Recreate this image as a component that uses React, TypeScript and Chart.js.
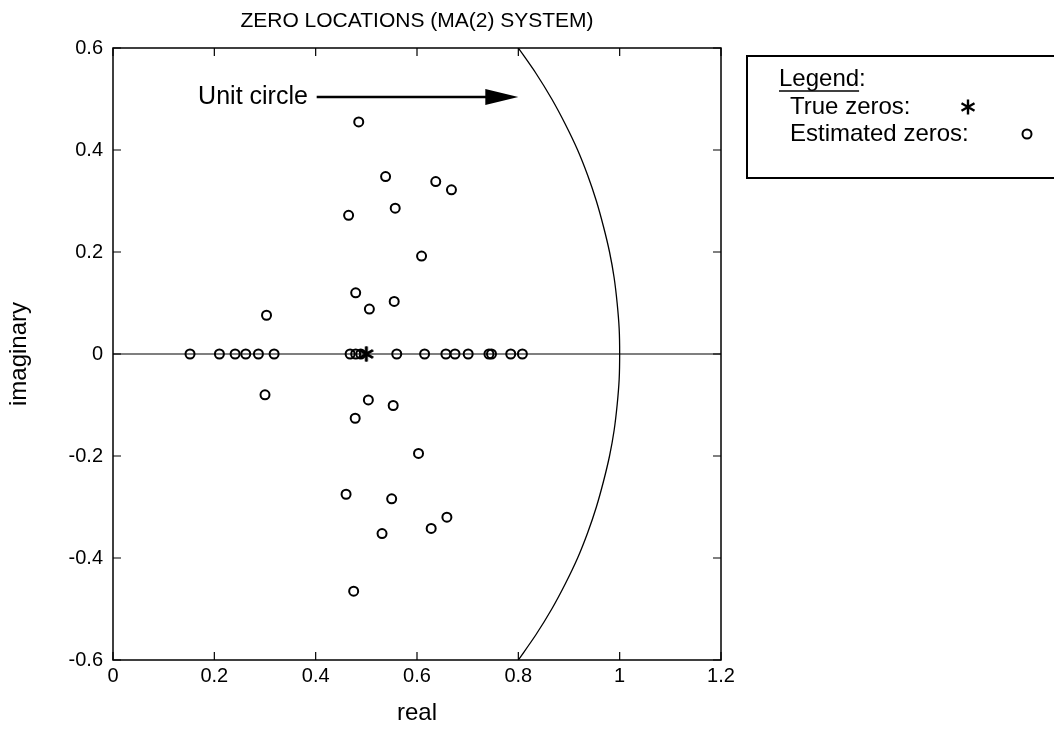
import React, { useEffect, useRef } from 'react';
import { Chart, registerables } from 'chart.js';

Chart.register(...registerables);

// ---------- data ----------
const xTicks = [0, 0.2, 0.4, 0.6, 0.8, 1, 1.2];
const xTickLabels = ['0', '0.2', '0.4', '0.6', '0.8', '1', '1.2'];
const yTicks = [-0.6, -0.4, -0.2, 0, 0.2, 0.4, 0.6];
const yTickLabels = ['-0.6', '-0.4', '-0.2', '0', '0.2', '0.4', '0.6'];

// estimated zeros (real part, imaginary part)
const estReal = [
  // upper half plane
  0.485, 0.538, 0.637, 0.668, 0.465, 0.557, 0.609, 0.479, 0.555, 0.506, 0.303,
  // lower half plane
  0.300, 0.504, 0.553, 0.478, 0.603, 0.460, 0.550, 0.628, 0.659, 0.531, 0.475,
  // on the real axis
  0.152, 0.210, 0.241, 0.262, 0.287, 0.318, 0.468, 0.479, 0.489, 0.560, 0.615,
  0.657, 0.675, 0.701, 0.742, 0.747, 0.785, 0.808,
];
const estImag = [
  0.455, 0.348, 0.338, 0.322, 0.272, 0.286, 0.192, 0.120, 0.103, 0.088, 0.076,
  -0.080, -0.090, -0.101, -0.126, -0.195, -0.275, -0.284, -0.342, -0.320, -0.352, -0.465,
  0, 0, 0, 0, 0, 0, 0, 0, 0, 0, 0,
  0, 0, 0, 0, 0, 0, 0,
];

// true zeros
const trueReal = [0.5, 0.5];
const trueImag = [0, 0];

// unit circle (visible arc)
const circleImag = [
  0.6, 0.55, 0.5, 0.45, 0.4, 0.35, 0.3, 0.25, 0.2, 0.15, 0.1, 0.05, 0,
  -0.05, -0.1, -0.15, -0.2, -0.25, -0.3, -0.35, -0.4, -0.45, -0.5, -0.55, -0.6,
];
const circleReal = [
  0.8, 0.835, 0.866, 0.893, 0.917, 0.937, 0.954, 0.968, 0.98, 0.989, 0.995, 0.999, 1,
  0.999, 0.995, 0.989, 0.98, 0.968, 0.954, 0.937, 0.917, 0.893, 0.866, 0.835, 0.8,
];

// real axis line
const axisReal = [0, 1.2];
const axisImag = [0, 0];

const titleText = 'ZERO LOCATIONS (MA(2) SYSTEM)';
const xTitle = 'real';
const yTitle = 'imaginary';
const annotationText = 'Unit circle';
const legendTitle = 'Legend';
const legendTrue = 'True zeros:';
const legendEst = 'Estimated zeros:';

// ---------- layout ----------
const W = 1054;
const H = 744;
const PLOT_LEFT = 113;
const PLOT_RIGHT = 721;
const PLOT_TOP = 48;
const PLOT_BOTTOM = 660;
const FONT = '"Liberation Sans", Arial, Helvetica, sans-serif';

const zip = (xs: number[], ys: number[]) => xs.map((x, i) => ({ x, y: ys[i] }));

function makeStar(): HTMLCanvasElement {
  const c = document.createElement('canvas');
  const s = 18;
  c.width = s;
  c.height = s;
  const g = c.getContext('2d')!;
  g.strokeStyle = '#000';
  g.lineWidth = 2.4;
  g.lineCap = 'butt';
  const cx = s / 2;
  const cy = s / 2;
  const r = 7.5;
  const angles = [90, 30, 150];
  g.beginPath();
  angles.forEach((a) => {
    const rad = (a * Math.PI) / 180;
    g.moveTo(cx - r * Math.cos(rad), cy - r * Math.sin(rad));
    g.lineTo(cx + r * Math.cos(rad), cy + r * Math.sin(rad));
  });
  g.stroke();
  return c;
}

const overlayPlugin = {
  id: 'overlay',
  afterDraw(chart: any) {
    const { ctx, chartArea: a } = chart;
    const xs = chart.scales.x;
    const ys = chart.scales.y;
    ctx.save();
    ctx.strokeStyle = '#000';
    ctx.fillStyle = '#000';

    // plot frame
    ctx.lineWidth = 1.5;
    ctx.strokeRect(a.left, a.top, a.right - a.left, a.bottom - a.top);

    // inward ticks on all four sides
    const tl = 8;
    ctx.lineWidth = 1.2;
    ctx.beginPath();
    xTicks.forEach((v) => {
      const px = xs.getPixelForValue(v);
      ctx.moveTo(px, a.bottom);
      ctx.lineTo(px, a.bottom - tl);
      ctx.moveTo(px, a.top);
      ctx.lineTo(px, a.top + tl);
    });
    yTicks.forEach((v) => {
      const py = ys.getPixelForValue(v);
      ctx.moveTo(a.left, py);
      ctx.lineTo(a.left + tl, py);
      ctx.moveTo(a.right, py);
      ctx.lineTo(a.right - tl, py);
    });
    ctx.stroke();

    // titles
    ctx.font = `21px ${FONT}`;
    ctx.textAlign = 'center';
    ctx.textBaseline = 'middle';
    ctx.fillText(titleText, (a.left + a.right) / 2, 21);
    ctx.font = `24px ${FONT}`;
    ctx.fillText(xTitle, (a.left + a.right) / 2, 713);
    ctx.save();
    ctx.translate(19, (a.top + a.bottom) / 2);
    ctx.rotate(-Math.PI / 2);
    ctx.fillText(yTitle, 0, 0);
    ctx.restore();

    // "Unit circle" annotation with arrow
    const ay = ys.getPixelForValue(0.504);
    ctx.font = `25px ${FONT}`;
    ctx.textAlign = 'left';
    ctx.fillText(annotationText, xs.getPixelForValue(0.168), ay);
    const x0 = xs.getPixelForValue(0.402);
    const x1 = xs.getPixelForValue(0.8);
    const headL = 33;
    const headH = 8;
    ctx.lineWidth = 2.5;
    ctx.beginPath();
    ctx.moveTo(x0, ay);
    ctx.lineTo(x1 - headL + 2, ay);
    ctx.stroke();
    ctx.beginPath();
    ctx.moveTo(x1, ay);
    ctx.lineTo(x1 - headL, ay - headH);
    ctx.lineTo(x1 - headL, ay + headH);
    ctx.closePath();
    ctx.fill();

    // legend box
    const lx = 747;
    const ly = 56;
    ctx.lineWidth = 2;
    ctx.strokeRect(lx, ly, 340, 122);
    ctx.font = `24px ${FONT}`;
    ctx.textAlign = 'left';
    ctx.textBaseline = 'middle';
    const legX = 779;
    ctx.fillText(legendTitle, legX, 79);
    const lw = ctx.measureText(legendTitle).width;
    ctx.fillText(':', legX + lw, 79);
    ctx.lineWidth = 1.4;
    ctx.beginPath();
    ctx.moveTo(legX, 91);
    ctx.lineTo(legX + lw, 91);
    ctx.stroke();
    ctx.fillText(legendTrue, 790, 107);
    ctx.fillText(legendEst, 790, 134);
    // legend markers
    const star = (chart as any).$star as HTMLCanvasElement;
    if (star) ctx.drawImage(star, 968 - star.width / 2, 107 - star.height / 2);
    ctx.lineWidth = 2;
    ctx.beginPath();
    ctx.arc(1027, 134, 4.5, 0, Math.PI * 2);
    ctx.stroke();

    ctx.restore();
  },
};

export default function App() {
  const canvasRef = useRef<HTMLCanvasElement | null>(null);

  useEffect(() => {
    const canvas = canvasRef.current;
    if (!canvas) return;
    const star = makeStar();
    const chart = new Chart(canvas, {
      type: 'scatter',
      data: {
        datasets: [
          {
            label: 'real axis',
            data: zip(axisReal, axisImag),
            showLine: true,
            borderColor: '#000',
            borderWidth: 1.2,
            pointRadius: 0,
            fill: false,
          },
          {
            label: 'unit circle',
            data: zip(circleReal, circleImag),
            showLine: true,
            borderColor: '#000',
            borderWidth: 1.3,
            pointRadius: 0,
            tension: 0.3,
            fill: false,
          },
          {
            label: 'Estimated zeros',
            data: zip(estReal, estImag),
            pointStyle: 'circle',
            pointRadius: 4.5,
            pointBorderWidth: 2,
            borderColor: '#000',
            backgroundColor: 'rgba(0,0,0,0)',
            pointBackgroundColor: 'rgba(0,0,0,0)',
            pointBorderColor: '#000',
          },
          {
            label: 'True zeros',
            data: zip(trueReal, trueImag),
            pointStyle: star as any,
            pointRadius: 9,
            borderColor: '#000',
            backgroundColor: '#000',
          },
        ],
      },
      options: {
        responsive: false,
        animation: false,
        layout: {
          padding: { left: 0, top: PLOT_TOP, right: W - PLOT_RIGHT, bottom: 0 },
        },
        plugins: {
          legend: { display: false },
          tooltip: { enabled: false },
          title: { display: false },
        },
        scales: {
          x: {
            type: 'linear',
            min: 0,
            max: 1.2,
            grid: { display: false, drawTicks: false },
            border: { display: false },
            afterFit: (s: any) => {
              s.height = H - PLOT_BOTTOM;
            },
            afterBuildTicks: (s: any) => {
              s.ticks = xTicks.map((v) => ({ value: v }));
            },
            ticks: {
              color: '#000',
              padding: 4,
              maxRotation: 0,
              font: { size: 20, family: FONT },
              callback: (_v: any, i: number) => xTickLabels[i],
            },
          },
          y: {
            type: 'linear',
            min: -0.6,
            max: 0.6,
            grid: { display: false, drawTicks: false },
            border: { display: false },
            afterFit: (s: any) => {
              s.width = PLOT_LEFT;
            },
            afterBuildTicks: (s: any) => {
              s.ticks = yTicks.map((v) => ({ value: v }));
            },
            ticks: {
              color: '#000',
              padding: 10,
              font: { size: 20, family: FONT },
              callback: (_v: any, i: number) => yTickLabels[i],
            },
          },
        },
      },
      plugins: [overlayPlugin],
    } as any);
    (chart as any).$star = star;
    chart.draw();
    return () => chart.destroy();
  }, []);

  return (
    <div style={{ position: 'absolute', left: 0, top: 0, width: W, height: H, background: '#fff' }}>
      <canvas ref={canvasRef} width={W} height={H} style={{ display: 'block' }} />
    </div>
  );
}
